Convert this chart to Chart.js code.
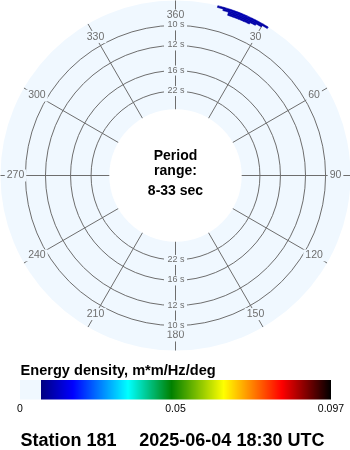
<!DOCTYPE html>
<html>
<head>
<meta charset="utf-8">
<script src="https://cdn.jsdelivr.net/npm/chart.js@4.4.1/dist/chart.umd.min.js"></script>
<style>
  html, body { margin: 0; padding: 0; background: #ffffff; }
  canvas { display: block; }
</style>
</head>
<body>
<canvas id="chart" width="350" height="450"></canvas>
<script>
// ---------------- data ----------------
const directionLabels = ['360', '30', '60', '90', '120', '150', '180', '210', '240', '270', '300', '330'];
const periodTicks = [22, 16, 12, 10];          // s, radial grid circles
const periodRange = [8, 33];                   // s
const innerPeriod = 33;                        // s, edge of the centre disc
// direction bins (deg, centres) of the spectrum cells
const dirCenters = [15, 17, 19, 21, 23, 25, 27, 29, 31];
const dirBinWidth = 2;
// frequency band edges (Hz) of the spectrum cells
const bandEdges = [0.1153, 0.1166, 0.1179, 0.1192, 0.1207];
// energy density (m*m/Hz/deg) per band, per direction bin
const energyBand1 = [0, 0, 0.0033, 0.0035, 0.0035, 0.0033, 0, 0, 0];
const energyBand2 = [0, 0, 0.0035, 0.0038, 0.0039, 0.0037, 0.0034, 0, 0];
const energyBand3 = [0, 0.0031, 0.0037, 0.0040, 0.0041, 0.0040, 0.0037, 0.0032, 0];
const energyBand4 = [0.0028, 0.0032, 0.0037, 0.0040, 0.0041, 0.0040, 0.0037, 0.0033, 0.0029];
const bandEnergies = [energyBand1, energyBand2, energyBand3, energyBand4];
const colorbarMax = 0.097;
const colorbarLabels = ['0', '0.05', '0.097'];
const stationTitle = 'Station 181';
const dateTitle = '2025-06-04 18:30 UTC';

// ---------------- styles ----------------
const BG = '#f0f8ff';
const GRID = '#6e6e6e';
const colorStops = [
  [0.00, [0, 0, 128]],
  [0.11, [0, 0, 255]],
  [0.30, [0, 255, 255]],
  [0.45, [0, 128, 0]],
  [0.63, [255, 255, 0]],
  [0.83, [255, 0, 0]],
  [1.00, [0, 0, 0]]
];
function energyColor(v) {
  if (!(v > 0)) return null;
  const t = Math.min(v / colorbarMax, 1);
  for (let i = 1; i < colorStops.length; i++) {
    if (t <= colorStops[i][0]) {
      const [t0, c0] = colorStops[i - 1], [t1, c1] = colorStops[i];
      const f = (t - t0) / (t1 - t0);
      const c = c0.map((a, k) => Math.round(a + (c1[k] - a) * f));
      return `rgb(${c[0]},${c[1]},${c[2]})`;
    }
  }
  return 'rgb(0,0,0)';
}
const toRad = d => d * Math.PI / 180;

// ---------------- annular-sector controller ----------------
class SpectrumController extends Chart.PolarAreaController {
  updateElements(arcs, start, count, mode) {
    const scale = this._cachedMeta.rScale;
    const ds = this.getDataset();
    const r0 = scale.getDistanceFromCenterForValue(ds.freqLow);
    const r1 = scale.getDistanceFromCenterForValue(ds.freqHigh);
    const base = scale.getIndexAngle(0) - Math.PI / 2;
    for (let i = start; i < start + count; i++) {
      const a0 = base + toRad(ds.directions[i] - ds.binWidth / 2);
      const a1 = base + toRad(ds.directions[i] + ds.binWidth / 2);
      this.updateElement(arcs[i], i, {
        x: scale.xCenter,
        y: scale.yCenter,
        innerRadius: r0,
        outerRadius: r1,
        startAngle: a0,
        endAngle: a1,
        circumference: a1 - a0,
        options: this.resolveDataElementOptions(i, mode)
      }, mode);
    }
  }
}
SpectrumController.id = 'spectrum';
Chart.register(SpectrumController);

// radial axis: frequency (Hz), linear
const radialMin = -0.0247;
const radialMax = 0.1207;

const datasets = bandEnergies.map((vals, k) => ({
  data: vals,
  directions: dirCenters,
  binWidth: dirBinWidth,
  freqLow: bandEdges[k],
  freqHigh: bandEdges[k + 1],
  backgroundColor: c => energyColor(c.raw) || 'rgba(0,0,0,0)',
  borderColor: c => energyColor(c.raw) || 'rgba(0,0,0,0)',
  borderWidth: 0.6
}));

const FONT = '"Liberation Sans", Arial, Helvetica, sans-serif';

const decor = {
  id: 'decor',
  beforeDraw(chart) {
    chart.ctx.save();
    chart.ctx.translate(0.5, 0.5);   // crisp 1px grid lines
  },
  afterDraw(chart) {
    const ctx = chart.ctx;
    const s = chart.scales.r;
    const cx = s.xCenter, cy = s.yCenter;
    ctx.save();

    // inner white disc
    ctx.beginPath();
    ctx.arc(cx, cy, s.getDistanceFromCenterForValue(1 / innerPeriod), 0, Math.PI * 2);
    ctx.fillStyle = '#ffffff';
    ctx.fill();

    // centre text
    ctx.fillStyle = '#000';
    ctx.font = 'bold 14px ' + FONT;
    ctx.textAlign = 'center';
    ctx.textBaseline = 'alphabetic';
    ctx.fillText('Period', cx, cy - 15.5);
    ctx.fillText('range:', cx, cy - 1);
    ctx.fillText(periodRange[0] + '-' + periodRange[1] + ' sec', cx, cy + 19);

    // direction labels
    ctx.font = '10.5px ' + FONT;
    ctx.textBaseline = 'middle';
    const labelR = s.drawingArea - 15;
    s._pointLabels.forEach((lab, i) => {
      const p = s.getPointPosition(i, labelR);
      const w = ctx.measureText(lab).width;
      ctx.fillStyle = BG;
      ctx.fillRect(p.x - w / 2 - 2, p.y - 6, w + 4, 12);
      ctx.fillStyle = GRID;
      ctx.fillText(lab, p.x, p.y);
    });

    // period tick labels, top and bottom
    ctx.font = '9px ' + FONT;
    s.ticks.forEach(t => {
      const d = s.getDistanceFromCenterForValue(t.value);
      const w = ctx.measureText(t.label).width;
      [cy - d, cy + d].forEach(y => {
        ctx.fillStyle = BG;
        ctx.fillRect(cx - w / 2 - 3, y - 5, w + 6, 10);
        ctx.fillStyle = GRID;
        ctx.fillText(t.label, cx + 0.5, y - 0.5);
      });
    });

    // colour bar
    ctx.translate(-0.5, -0.5);
    const top = chart.chartArea.bottom;
    ctx.fillStyle = '#000';
    ctx.textAlign = 'left';
    ctx.textBaseline = 'alphabetic';
    ctx.font = 'bold 14.6px ' + FONT;
    ctx.fillText('Energy density, m*m/Hz/deg', 20.5, top + 25);

    const barL = 20, swatchR = 41, barR = 331, barT = top + 30, barH = 19.5;
    ctx.fillStyle = BG;
    ctx.fillRect(barL, barT, swatchR - barL, barH);
    for (let x = swatchR; x < barR; x++) {
      const v = ((x - swatchR + 0.5) / (barR - swatchR)) * colorbarMax;
      ctx.fillStyle = energyColor(v);
      ctx.fillRect(x, barT, 1, barH);
    }
    ctx.fillStyle = '#000';
    ctx.font = '10.5px ' + FONT;
    ctx.textAlign = 'center';
    colorbarLabels.forEach((lab, i) => {
      const x = barL + (barR - barL) * i / (colorbarLabels.length - 1);
      ctx.fillText(lab, x, top + 61.5);
    });

    // title
    ctx.font = 'bold 18px ' + FONT;
    ctx.textAlign = 'left';
    ctx.fillText(stationTitle, 20.5, top + 95.5);
    ctx.fillText(dateTitle, 139.3, top + 95.5);

    ctx.restore();
    ctx.restore();
  }
};

new Chart(document.getElementById('chart'), {
  type: 'spectrum',
  data: { labels: directionLabels, datasets },
  options: {
    responsive: false,
    animation: false,
    events: [],
    layout: { padding: { left: 0, right: 0, top: 0, bottom: 100 } },
    plugins: { legend: { display: false }, tooltip: { enabled: false } },
    scales: {
      r: {
        type: 'radialLinear',
        min: radialMin,
        max: radialMax,
        startAngle: 0,
        beginAtZero: false,
        backgroundColor: BG,
        grid: { circular: true, color: GRID, lineWidth: 1 },
        angleLines: { display: true, color: GRID, lineWidth: 1 },
        pointLabels: { display: false },
        ticks: { display: false, callback: v => Math.round(1 / v) + ' s' },
        afterBuildTicks: sc => { sc.ticks = periodTicks.map(p => ({ value: 1 / p })); }
      }
    }
  },
  plugins: [decor]
});
</script>
</body>
</html>
